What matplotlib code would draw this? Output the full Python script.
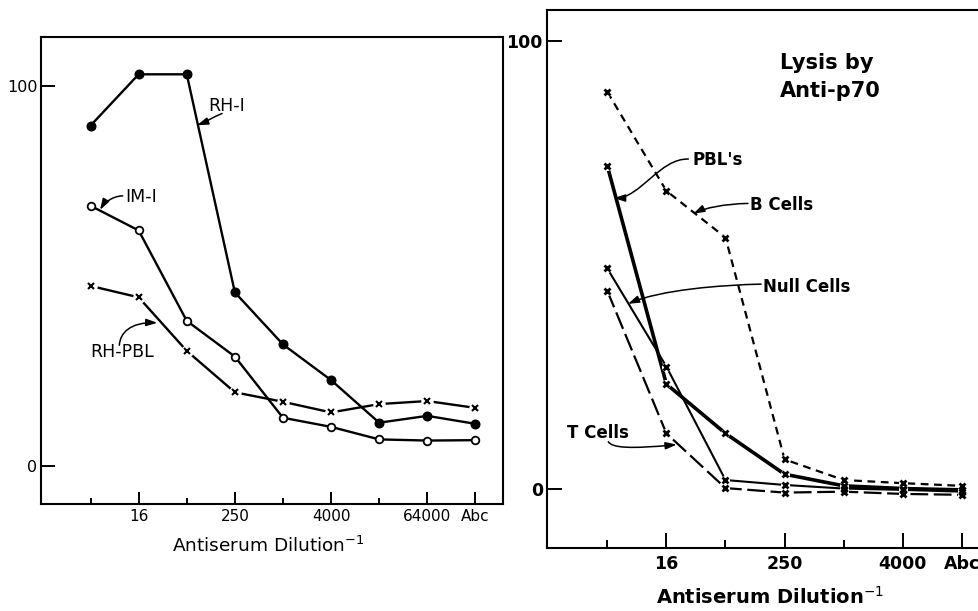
import matplotlib
matplotlib.use("Agg")
import matplotlib.pyplot as plt
from matplotlib.patches import FancyArrowPatch
from matplotlib.path import Path

plt.rcParams['font.family'] = ['DejaVu Sans']
plt.rcParams['mathtext.fontset'] = 'dejavusans'

# ---------------- data ----------------
# left panel
left_dilutions = ['4', '16', '64', '250', '1000', '4000', '16000', '64000', 'Abc']
left_tick_labels = ['', '16', '', '250', '', '4000', '', '64000', 'Abc']
rh1 = [89.6, 103.1, 103.1, 45.7, 32.0, 22.6, 11.4, 13.2, 11.1]
im1 = [68.5, 62.0, 38.2, 28.8, 12.7, 10.3, 7.0, 6.7, 6.8]
rh_pbl = [47.4, 44.4, 30.3, 19.4, 16.9, 14.1, 16.3, 17.1, 15.3]

# right panel (Lysis by Anti-p70)
right_dilutions = ['4', '16', '64', '250', '1000', '4000', 'Abc']
right_tick_labels = ['', '16', '', '250', '', '4000', 'Abc']
b_cells = [88.6, 66.5, 56.1, 6.6, 2.0, 1.3, 0.7]
pbls = [72.1, 23.4, 12.4, 3.3, 0.7, 0.1, -0.2]
null_cells = [49.2, 27.3, 2.0, 0.9, 0.1, -0.2, -0.6]
t_cells = [44.2, 12.4, 0.2, -0.8, -0.6, -1.1, -1.3]

y_ticks = [0, 100]
y_tick_labels = ['0', '100']

W, H = 979, 611
fig = plt.figure(figsize=(W / 100, H / 100), dpi=100)
fig.patch.set_facecolor('white')

axL = fig.add_axes([41 / W, (H - 503.5) / H, (503.3 - 41) / W, (503.5 - 36.7) / H])
axR = fig.add_axes([547 / W, (H - 548.3) / H, (995 - 547) / W, (548.3 - 10) / H])


def style_axis(ax, labels, xlim, ylim, xfs, yfs, weight, maj, minr, ylen, xpad, ypad):
    ax.set_xlim(*xlim)
    ax.set_ylim(*ylim)
    idx = list(range(len(labels)))
    major = [i for i in idx if labels[i]]
    minor = [i for i in idx if not labels[i]]
    ax.set_xticks(major)
    ax.set_xticklabels([labels[i] for i in major], fontsize=xfs, fontweight=weight)
    ax.set_xticks(minor, minor=True)
    ax.set_yticks(y_ticks)
    ax.set_yticklabels(y_tick_labels, fontsize=yfs, fontweight=weight)
    ax.tick_params(axis='x', which='major', direction='in', length=maj, width=1.4,
                   pad=xpad, top=False)
    ax.tick_params(axis='x', which='minor', direction='in', length=minr, width=1.4, top=False)
    ax.tick_params(axis='y', which='major', direction='in', length=ylen, width=1.4,
                   pad=ypad, right=False)
    for s in ax.spines.values():
        s.set_linewidth(1.5)
        s.set_color('black')


style_axis(axL, left_tick_labels, (-1.03, 8.58), (-9.87, 113.0), 11, 11.5, 'normal',
           8.5, 4.3, 10, 4.3, 2.5)
style_axis(axR, right_tick_labels, (-1.02, 6.56), (-13.23, 106.85), 12.5, 12.5, 'bold',
           10.5, 5.5, 10.5, 4.8, 3.0)


def xmarks(ax, x, y, ms, mew, gap):
    ax.plot(x, y, ls='none', marker='o', ms=gap, mfc='white', mec='none', zorder=3)
    ax.plot(x, y, ls='none', marker='x', ms=ms, mew=mew, color='black', zorder=4)


# ---------------- left panel ----------------
xl = list(range(len(left_dilutions)))
axL.plot(xl, rh1, color='black', lw=1.7, marker='o', ms=6.2, mfc='black', mec='black', zorder=2)
axL.plot(xl, im1, color='black', lw=1.7, marker='o', ms=5.5, mfc='white', mec='black',
         mew=1.3, zorder=2)
axL.plot(xl, rh_pbl, color='black', lw=1.7, zorder=2)
xmarks(axL, xl, rh_pbl, 4.5, 1.5, 9)

axL.set_xlabel(r'Antiserum Dilution$^{-1}$', fontsize=13.3)
axL.xaxis.set_label_coords(0.491, -0.1039)
axL.xaxis.label.set_va('baseline')

# ---------------- right panel ----------------
xr = list(range(len(right_dilutions)))
axR.plot(xr, b_cells, color='black', lw=1.6, ls=(0, (3.5, 2.5)), zorder=2)
axR.plot(xr, pbls, color='black', lw=2.6, zorder=2)
axR.plot(xr, null_cells, color='black', lw=1.5, zorder=2)
axR.plot(xr, t_cells, color='black', lw=1.6, ls=(0, (8, 2.5)), zorder=2)
for s in (b_cells, pbls, null_cells, t_cells):
    xmarks(axR, xr, s, 5.0, 2.0, 6.5)

axR.set_xlabel(r'Antiserum Dilution$^{-1}$', fontsize=14, fontweight='bold')
axR.xaxis.set_label_coords(0.498, -0.1035)
axR.xaxis.label.set_va('baseline')

axR.text(2.924, 93.8, 'Lysis by', fontsize=15, fontweight='bold', va='baseline')
axR.text(2.924, 87.5, 'Anti-p70', fontsize=15, fontweight='bold', va='baseline')


# ---------------- labels with curved leaders ----------------
def leader(ax, pts, lw=1.1):
    path = Path(pts, [Path.MOVETO, Path.CURVE4, Path.CURVE4, Path.CURVE4])
    p = FancyArrowPatch(path=path, arrowstyle='-|>,head_length=0.55,head_width=0.18',
                        mutation_scale=12, lw=lw, color='black', zorder=5)
    ax.add_patch(p)


axL.text(2.443, 93.5, 'RH-I', fontsize=12.5, va='baseline')
leader(axL, [(2.734, 92.8), (2.547, 91.8), (2.380, 90.5), (2.214, 89.7)])

axL.text(0.717, 69.4, 'IM-I', fontsize=12.5, va='baseline')
leader(axL, [(0.669, 71.1), (0.447, 71.05), (0.281, 69.2), (0.198, 67.4)])

axL.text(-0.01, 28.6, 'RH-PBL', fontsize=12.5, va='baseline')
leader(axL, [(0.599, 31.8), (0.613, 35.0), (0.821, 37.9), (1.389, 37.7)])

axR.text(1.439, 72.3, "PBL's", fontsize=12, fontweight='bold', va='baseline')
leader(axR, [(1.371, 73.6), (0.892, 73.8), (0.554, 64.9), (0.113, 64.9)])

axR.text(2.416, 62.2, 'B Cells', fontsize=12, fontweight='bold', va='baseline')
leader(axR, [(2.380, 63.7), (1.989, 63.6), (1.650, 62.7), (1.456, 61.4)])

axR.text(2.636, 44.0, 'Null Cells', fontsize=12, fontweight='bold', va='baseline')
leader(axR, [(2.602, 45.7), (1.908, 45.5), (0.892, 44.4), (0.350, 41.3)])

axR.text(-0.687, 11.3, 'T Cells', fontsize=12, fontweight='bold', va='baseline')
leader(axR, [(0.017, 10.55), (0.080, 9.15), (0.384, 8.9), (1.175, 9.9)])

fig.savefig('out.png', dpi=100, facecolor='white')
